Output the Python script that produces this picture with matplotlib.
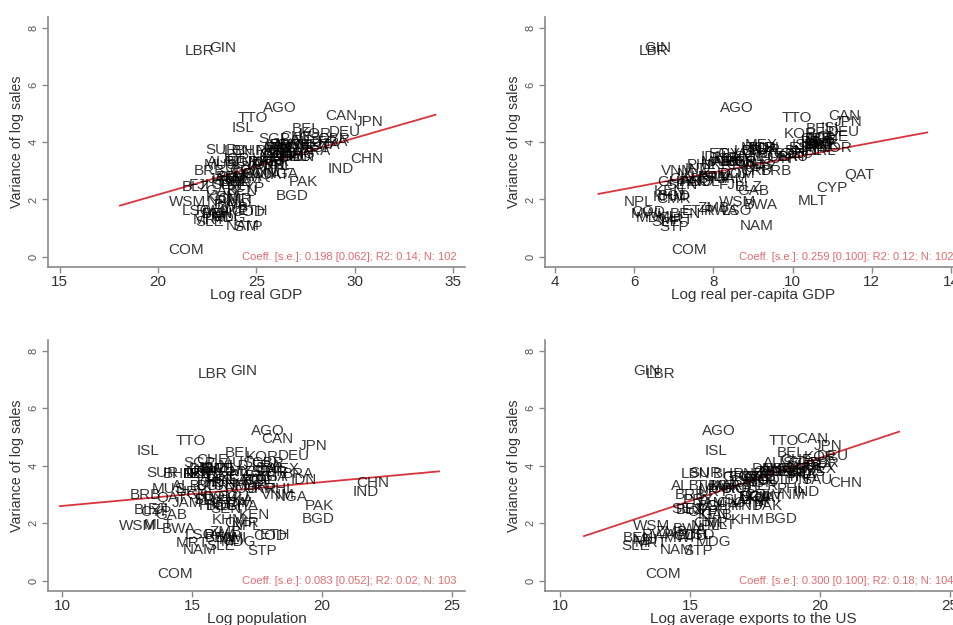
import numpy as np
import matplotlib.pyplot as plt

plt.rcParams['font.family'] = ['Liberation Sans', 'DejaVu Sans']

# country labels and the four regressors (approx.)
codes = ['LBR', 'GIN', 'COM', 'AGO', 'TTO', 'CAN', 'JPN', 'ISL', 'SUR', 'BHR',
         'WSM', 'MLT', 'NAM', 'SLE', 'CHN', 'IND', 'BGD', 'PAK', 'COD', 'STP',
         'BEL', 'DEU', 'BLZ', 'BRB', 'ALB', 'CYP', 'QAT', 'GBR', 'FRA', 'ITA',
         'ESP', 'NLD', 'SWE', 'NOR', 'DNK', 'FIN', 'AUT', 'CHE', 'IRL', 'PRT',
         'GRC', 'AUS', 'NZL', 'KOR', 'ISR', 'SGP', 'CZE', 'HUN', 'POL', 'BGR',
         'ROU', 'TUR', 'MEX', 'BRA', 'ARG', 'CHL', 'COL', 'PER', 'ECU', 'BOL',
         'PRY', 'URY', 'CRI', 'GTM', 'HND', 'SLV', 'DOM', 'JAM', 'EGY', 'MAR',
         'TUN', 'JOR', 'LBN', 'SAU', 'IDN', 'THA', 'MYS', 'PHL', 'VNM', 'LKA',
         'KHM', 'NPL', 'UKR', 'SEN', 'CIV', 'GHA', 'NGA', 'CMR', 'GAB', 'KEN',
         'ETH', 'MDG', 'MWI', 'ZMB', 'BWA', 'MUS', 'LSO', 'MLI', 'BEN', 'MRT',
         'RWA', 'FJI']

var_sales = [7.20, 7.30, 0.22, 5.20, 4.85, 4.92, 4.70, 4.50, 3.74, 3.70,
             1.90, 1.95, 1.07, 1.22, 3.40, 3.07, 2.13, 2.60, 1.57, 1.05,
             4.45, 4.35, 2.45, 3.00, 3.30, 2.40, 2.87, 4.10, 4.00, 3.90,
             3.80, 4.00, 3.90, 3.80, 3.90, 3.80, 3.90, 4.20, 3.70, 3.50,
             3.60, 4.10, 3.70, 4.30, 3.90, 4.10, 3.60, 3.40, 3.50, 3.30,
             3.20, 3.80, 3.90, 3.70, 3.60, 3.80, 3.50, 3.30, 2.90, 2.60,
             2.80, 3.10, 3.00, 2.70, 2.60, 2.80, 2.90, 2.70, 3.60, 3.30,
             3.30, 3.40, 3.70, 3.50, 3.50, 3.60, 3.80, 3.20, 3.00, 2.80,
             2.10, 1.90, 3.20, 2.50, 2.70, 2.60, 2.90, 2.00, 2.30, 2.30,
             1.60, 1.35, 1.50, 1.70, 1.80, 3.20, 1.60, 1.40, 1.50, 1.30,
             1.60, 2.50]

log_gdp = [22.1, 23.3, 21.4, 26.2, 24.8, 29.3, 30.7, 24.3, 23.2, 24.7,
           21.5, 24.2, 24.3, 22.6, 30.6, 29.3, 26.8, 27.4, 24.6, 24.6,
           27.5, 29.5, 21.9, 22.6, 23.2, 24.6, 25.9, 28.9, 28.9, 28.7,
           28.2, 27.6, 26.9, 26.9, 26.5, 26.2, 26.6, 27.0, 26.2, 26.1,
           26.2, 27.5, 25.7, 28.0, 26.1, 25.9, 25.9, 25.6, 26.9, 24.3,
           25.6, 27.3, 27.9, 28.0, 27.2, 26.1, 26.5, 25.9, 25.1, 23.9,
           23.7, 24.2, 24.3, 24.4, 23.5, 23.7, 24.7, 23.3, 26.3, 25.4,
           24.6, 23.9, 24.1, 27.0, 27.3, 26.6, 26.2, 26.1, 25.4, 24.6,
           23.3, 23.2, 25.7, 23.5, 24.0, 23.9, 26.3, 23.9, 23.2, 24.3,
           24.8, 23.6, 23.0, 23.8, 23.7, 23.2, 22.0, 23.4, 23.0, 22.6,
           22.8, 22.1]

log_gdppc = [6.5, 6.6, 7.4, 8.6, 10.1, 11.3, 11.4, 11.0, 9.3, 10.2,
             8.6, 10.5, 9.1, 6.8, 8.6, 7.6, 7.0, 7.5, 6.35, 7.0,
             10.7, 11.3, 8.9, 9.6, 8.3, 11.0, 11.7, 10.6, 10.6, 10.5,
             10.3, 10.7, 10.7, 11.1, 10.8, 10.6, 10.7, 11.0, 10.8, 10.0,
             10.1, 10.7, 10.4, 10.2, 10.3, 10.7, 9.9, 9.6, 9.5, 8.7,
             8.9, 9.2, 9.2, 9.1, 9.3, 9.4, 8.9, 8.7, 8.5, 7.8,
             8.0, 9.2, 9.0, 8.0, 7.6, 8.1, 8.6, 8.5, 8.3, 8.1,
             8.5, 8.3, 8.9, 10.0, 8.0, 8.5, 9.1, 7.7, 7.1, 7.8,
             6.9, 6.1, 8.1, 7.2, 7.2, 7.0, 7.5, 7.0, 9.0, 6.9,
             7.6, 6.5, 6.3, 8.0, 9.2, 9.1, 8.6, 6.9, 7.3, 7.1,
             8.2, 8.4]

log_pop = [15.8, 17.0, 14.35, 17.9, 14.96, 18.27, 19.65, 13.3, 13.85, 14.5,
           12.9, 13.7, 15.3, 16.1, 21.96, 21.7, 19.85, 19.9, 18.0, 17.7,
           16.8, 18.9, 13.3, 13.2, 14.8, 13.6, 14.2, 17.9, 17.9, 17.9,
           17.6, 16.6, 16.0, 15.4, 15.5, 15.5, 15.9, 15.8, 15.2, 16.1,
           16.2, 16.8, 15.2, 17.7, 15.8, 15.3, 16.1, 16.1, 17.5, 15.8,
           16.9, 18.1, 18.5, 19.1, 17.5, 16.6, 17.6, 17.2, 16.6, 16.1,
           15.7, 15.0, 15.3, 16.4, 15.9, 15.6, 16.1, 14.8, 18.1, 17.3,
           16.1, 15.6, 15.2, 17.0, 19.3, 18.1, 17.1, 18.4, 18.3, 16.8,
           16.4, 17.1, 17.6, 16.3, 16.8, 16.9, 18.8, 16.9, 14.2, 17.4,
           18.2, 16.8, 16.5, 16.3, 14.5, 14.1, 15.3, 16.5, 16.1, 15.0,
           16.1, 13.7]

log_exus = [13.85, 13.35, 13.95, 16.1, 18.6, 19.7, 20.3, 16.0, 15.6, 16.5,
            13.5, 16.2, 14.5, 12.9, 21.0, 19.5, 18.5, 18.0, 15.0, 15.3,
            18.9, 20.5, 15.0, 15.0, 14.8, 15.5, 18.0, 20.1, 19.9, 19.7,
            19.0, 19.3, 18.8, 18.3, 18.0, 18.1, 18.3, 19.1, 19.2, 17.6,
            16.9, 18.4, 17.6, 20.0, 19.0, 19.4, 17.5, 17.7, 17.8, 16.3,
            17.0, 18.4, 20.0, 19.3, 17.7, 18.0, 18.2, 17.8, 17.5, 15.9,
            15.3, 15.9, 17.6, 17.3, 17.2, 16.8, 17.6, 15.8, 17.1, 16.4,
            15.8, 17.0, 15.2, 19.9, 19.1, 19.3, 19.6, 18.9, 18.8, 17.5,
            17.2, 15.6, 16.8, 14.9, 16.5, 16.2, 17.5, 15.8, 16.0, 15.9,
            15.1, 15.9, 14.6, 14.3, 15.0, 16.0, 15.4, 13.3, 13.0, 13.5,
            13.8, 15.2]

x_titles = ['Log real GDP', 'Log real per-capita GDP',
            'Log population', 'Log average exports to the US']
x_ticks = [[15, 20, 25, 30, 35], [4, 6, 8, 10, 12, 14],
           [10, 15, 20, 25], [10, 15, 20, 25]]
x_lims = [(14.4, 35.6), (3.75, 14.28), (9.46, 25.5), (9.42, 25.46)]
y_ticks = [0, 2, 4, 6, 8]

# linear fits
fit_coef = [0.198, 0.259, 0.083, 0.300]
fit_const = [-1.789, 0.874, 1.772, -1.724]
fit_lo = [18.06, 5.1, 9.92, 10.92]
fit_hi = [34.1, 13.4, 24.5, 23.04]
fit_text = ['Coeff. [s.e.]: 0.198 [0.062]; R2: 0.14; N: 102',
            'Coeff. [s.e.]: 0.259 [0.100]; R2: 0.12; N: 102',
            'Coeff. [s.e.]: 0.083 [0.052]; R2: 0.02; N: 103',
            'Coeff. [s.e.]: 0.300 [0.100]; R2: 0.18; N: 104']

xs = [log_gdp, log_gdppc, log_pop, log_exus]

fig = plt.figure(figsize=(9.54, 6.25), dpi=100)
rects = [[0.0503, 0.5728, 0.4371, 0.400],
         [0.5713, 0.5728, 0.4371, 0.400],
         [0.0503, 0.0544, 0.4371, 0.4016],
         [0.5713, 0.0544, 0.4371, 0.4016]]

axcol = '#8a8a8a'
for i in range(4):
    ax = fig.add_axes(rects[i])
    for c, xv, yv in zip(codes, xs[i], var_sales):
        ax.text(xv, yv, c, ha='center', va='center', fontsize=11,
                color='#000000', alpha=0.78)
    xf = np.array([fit_lo[i], fit_hi[i]])
    ax.plot(xf, fit_const[i] + fit_coef[i] * xf, color='#d8343c', lw=1.3)
    # axes-x / data-y placement
    ax.text(0.98, 0, fit_text[i], transform=ax.get_yaxis_transform(),
            ha='right', va='center', fontsize=8, color='#e46a6e')
    ax.set_xlim(*x_lims[i])
    ax.set_ylim(-0.36, 8.38)
    ax.set_xticks(x_ticks[i])
    ax.set_yticks(y_ticks)
    ax.set_yticklabels([str(t) for t in y_ticks], rotation=90, va='center',
                       fontsize=8, color='#555555')
    ax.tick_params(axis='x', labelsize=11, colors='#333333', length=4,
                   color=axcol, width=1, pad=2)
    ax.tick_params(axis='y', length=4, color=axcol, width=1, pad=3)
    for s in ['top', 'right']:
        ax.spines[s].set_visible(False)
    for s in ['left', 'bottom']:
        ax.spines[s].set_color(axcol)
        ax.spines[s].set_linewidth(1.2)
    ax.set_xlabel(x_titles[i], fontsize=11, color='#333333', labelpad=-1)
    ax.set_ylabel('Variance of log sales', fontsize=10.3, color='#333333',
                  labelpad=3)

fig.savefig('out.png', dpi=100, facecolor='white')
